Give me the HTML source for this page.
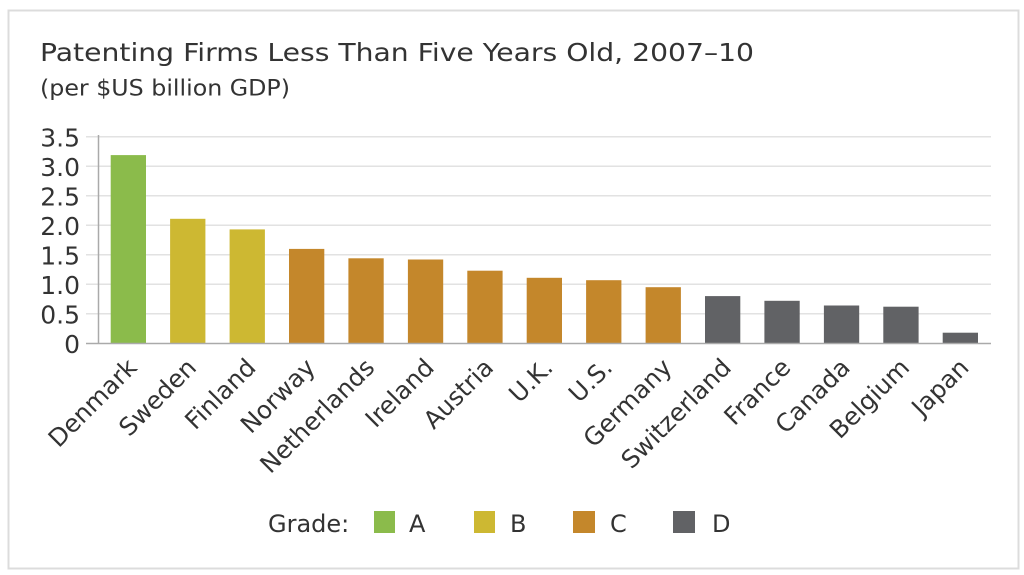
<!DOCTYPE html>
<html>
<head>
<meta charset="utf-8">
<style>
  html, body { margin: 0; padding: 0; background: #ffffff; }
  body { width: 1024px; height: 575px; overflow: hidden; }
  svg { display: block; }
  text { font-family: "DejaVu Sans", "Liberation Sans", sans-serif; fill: #333333; }
</style>
</head>
<body>
<svg width="1024" height="575" viewBox="0 0 1024 575" xmlns="http://www.w3.org/2000/svg">
  <rect x="0" y="0" width="1024" height="575" fill="#ffffff"/>
  <!-- frame -->
  <rect x="8.5" y="10.5" width="1010" height="558" fill="#ffffff" stroke="#dcdcdc" stroke-width="2"/>

  <!-- title -->
  <text x="40" y="61" font-size="24.5" textLength="714" lengthAdjust="spacingAndGlyphs">Patenting Firms Less Than Five Years Old, 2007–10</text>
  <text x="40" y="95.5" font-size="22" textLength="250" lengthAdjust="spacingAndGlyphs">(per $US billion GDP)</text>

  <!-- gridlines -->
  <g stroke="#e2e2e2" stroke-width="1.5">
    <line x1="86" y1="313.8" x2="991" y2="313.8"/>
    <line x1="86" y1="284.3" x2="991" y2="284.3"/>
    <line x1="86" y1="254.8" x2="991" y2="254.8"/>
    <line x1="86" y1="225.3" x2="991" y2="225.3"/>
    <line x1="86" y1="195.8" x2="991" y2="195.8"/>
    <line x1="86" y1="166.3" x2="991" y2="166.3"/>
    <line x1="86" y1="136.8" x2="991" y2="136.8"/>
  </g>

  <!-- y tick labels -->
  <g font-size="25" text-anchor="end">
    <text x="80" y="352.8">0</text>
    <text x="80" y="323.3">0.5</text>
    <text x="80" y="293.8">1.0</text>
    <text x="80" y="264.3">1.5</text>
    <text x="80" y="234.8">2.0</text>
    <text x="80" y="205.3">2.5</text>
    <text x="80" y="175.8">3.0</text>
    <text x="80" y="146.3">3.5</text>
  </g>

  <!-- bars -->
  <g>
    <rect x="110.7" y="155.1" width="35.3" height="188.2" fill="#8bbb4b"/>
    <rect x="170.1" y="218.8" width="35.3" height="124.5" fill="#cdb832"/>
    <rect x="229.6" y="229.4" width="35.3" height="113.9" fill="#cdb832"/>
    <rect x="289.0" y="248.9" width="35.3" height="94.4" fill="#c4872b"/>
    <rect x="348.4" y="258.3" width="35.3" height="85.0" fill="#c4872b"/>
    <rect x="407.9" y="259.5" width="35.3" height="83.8" fill="#c4872b"/>
    <rect x="467.3" y="270.7" width="35.3" height="72.6" fill="#c4872b"/>
    <rect x="526.7" y="277.8" width="35.3" height="65.5" fill="#c4872b"/>
    <rect x="586.1" y="280.2" width="35.3" height="63.1" fill="#c4872b"/>
    <rect x="645.6" y="287.2" width="35.3" height="56.1" fill="#c4872b"/>
    <rect x="705.0" y="296.1" width="35.3" height="47.2" fill="#616265"/>
    <rect x="764.4" y="300.8" width="35.3" height="42.5" fill="#616265"/>
    <rect x="823.9" y="305.5" width="35.3" height="37.8" fill="#616265"/>
    <rect x="883.3" y="306.7" width="35.3" height="36.6" fill="#616265"/>
    <rect x="942.7" y="332.7" width="35.3" height="10.6" fill="#616265"/>
  </g>

  <!-- axes -->
  <line x1="98.5" y1="135" x2="98.5" y2="344" stroke="#aaaaaa" stroke-width="1.5"/>
  <line x1="86" y1="343.5" x2="991" y2="343.5" stroke="#aaaaaa" stroke-width="1.5"/>

  <!-- x labels -->
  <g font-size="24.5" text-anchor="end">
    <text transform="translate(138.3,369) rotate(-45)">Denmark</text>
    <text transform="translate(197.7,369) rotate(-45)">Sweden</text>
    <text transform="translate(257.2,369) rotate(-45)">Finland</text>
    <text transform="translate(316.6,369) rotate(-45)">Norway</text>
    <text transform="translate(376.0,369) rotate(-45)">Netherlands</text>
    <text transform="translate(435.5,369) rotate(-45)">Ireland</text>
    <text transform="translate(494.9,369) rotate(-45)">Austria</text>
    <text transform="translate(554.3,369) rotate(-45)">U.K.</text>
    <text transform="translate(613.7,369) rotate(-45)">U.S.</text>
    <text transform="translate(673.2,369) rotate(-45)">Germany</text>
    <text transform="translate(732.6,369) rotate(-45)">Switzerland</text>
    <text transform="translate(792.0,369) rotate(-45)">France</text>
    <text transform="translate(851.5,369) rotate(-45)">Canada</text>
    <text transform="translate(910.9,369) rotate(-45)">Belgium</text>
    <text transform="translate(970.3,369) rotate(-45)">Japan</text>
  </g>

  <!-- legend -->
  <text x="268" y="532" font-size="24">Grade:</text>
  <rect x="374" y="511" width="21" height="22" fill="#8bbb4b"/>
  <text x="409" y="532" font-size="24">A</text>
  <rect x="474" y="511" width="21" height="22" fill="#cdb832"/>
  <text x="510" y="532" font-size="24">B</text>
  <rect x="573" y="511" width="22" height="22" fill="#c4872b"/>
  <text x="610" y="532" font-size="24">C</text>
  <rect x="673" y="511" width="22" height="22" fill="#616265"/>
  <text x="712" y="532" font-size="24">D</text>
</svg>
</body>
</html>
